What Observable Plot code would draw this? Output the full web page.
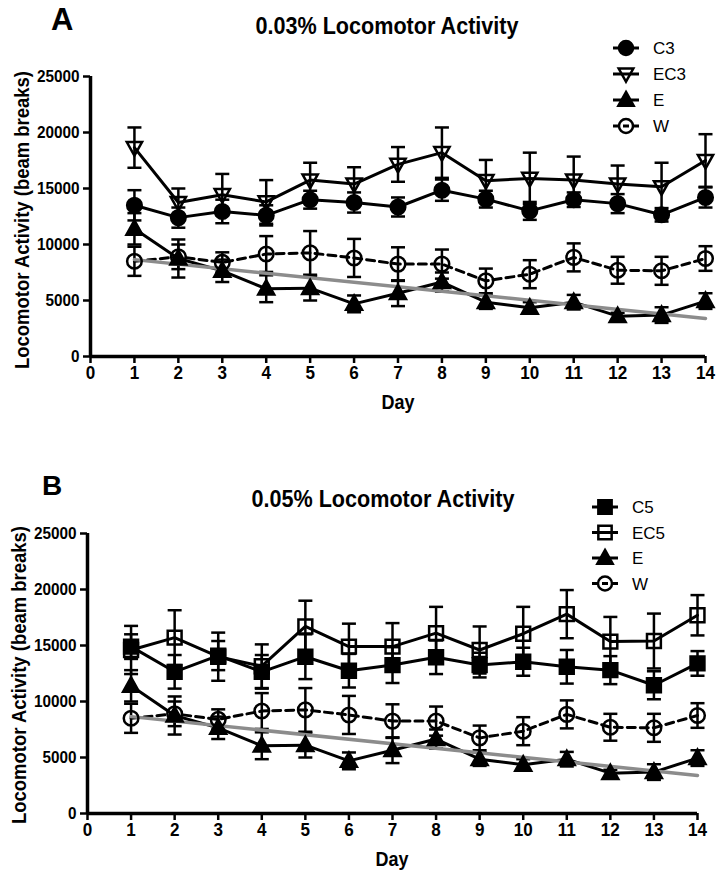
<!DOCTYPE html>
<html><head><meta charset="utf-8">
<script src="https://cdn.jsdelivr.net/npm/d3@7"></script>
<script src="https://cdn.jsdelivr.net/npm/@observablehq/plot@0.6"></script>
<style>
body{margin:0;background:#fff;font-family:"Liberation Sans",Arial,sans-serif;color:#000;}
#wrap{position:relative;width:722px;height:876px;overflow:hidden;background:#fff;}
.panel{position:absolute;left:0;width:722px;height:438px;}
.overlay{position:absolute;left:0;top:0;overflow:visible;}
</style></head><body><div id="wrap"></div>
<script>
// ---------- data ----------
const days = [1,2,3,4,5,6,7,8,9,10,11,12,13,14];
const xTicks = [0,1,2,3,4,5,6,7,8,9,10,11,12,13,14];
const yTicks = [0,5000,10000,15000,20000,25000];

const c3    = [13500,12400,12950,12600,14000,13750,13350,14850,14050,13000,14000,13650,12650,14200];
const c3Err = [1350,900,1050,900,800,900,850,950,750,800,650,850,600,900];
const ec3    = [18650,13750,14450,13800,15750,15400,17150,18200,15700,15900,15750,15400,15150,17500];
const ec3Err = [1800,1250,1850,1950,1550,1500,1550,2250,1850,2300,2100,1650,2150,2350];
const eVals = [11400,8750,7650,6050,6100,4700,5650,6650,4850,4350,4850,3600,3700,4950];
const eErr  = [1400,1700,1000,1200,1100,750,1150,850,600,500,650,300,700,700];
const wVals = [8500,8900,8400,9150,9250,8800,8250,8250,6750,7350,8850,7700,7650,8750];
const wErr  = [1300,1100,900,1600,1950,1700,1500,1300,1100,1250,1250,1200,1250,1100];
const c5    = [14900,12650,14100,12650,14000,12750,13250,13950,13250,13550,13100,12800,11450,13400];
const c5Err = [1100,1500,1300,1500,2000,1500,1600,1500,1100,1250,1500,1250,1250,1100];
const ec5    = [14600,15700,14000,13150,16700,14900,14900,16100,14600,16050,17800,15350,15400,17700];
const ec5Err = [2150,2450,2150,1950,2300,2050,2100,2350,2100,2400,2150,2200,2450,1800];
const trendDays = [1,14];
const trendVals = [8650,3400];

const titleA = "0.03% Locomotor Activity";
const titleB = "0.05% Locomotor Activity";
const yLabel = "Locomotor Activity (beam breaks)";
const xLabel = "Day";

// ---------- symbols ----------
const rad = s => Math.sqrt(s/Math.PI);
const symCircle = {draw(c,s){const r=rad(s); c.moveTo(r,0); c.arc(0,0,r,0,2*Math.PI); c.closePath();}};
const symTriUp = {draw(c,s){const r=rad(s)*1.15; c.moveTo(0,-r); c.lineTo(r*0.95,r*0.7); c.lineTo(-r*0.95,r*0.7); c.closePath();}};
const symTriDown = {draw(c,s){const r=rad(s)*1.1; c.moveTo(0,r); c.lineTo(r*0.95,-r*0.7); c.lineTo(-r*0.95,-r*0.7); c.closePath();}};
const symSquare = {draw(c,s){const r=rad(s)*0.95; c.moveTo(-r,-r); c.lineTo(r,-r); c.lineTo(r,r); c.lineTo(-r,r); c.closePath();}};
const symCap = {draw(c,s){const r=rad(s); c.moveTo(-r,0); c.lineTo(r,0);}};

const seriesA = [
  {name:"C3", values:c3, errs:c3Err, symbol:symCircle, filled:true, dash:false},
  {name:"EC3", values:ec3, errs:ec3Err, symbol:symTriDown, filled:false, dash:false},
  {name:"E", values:eVals, errs:eErr, symbol:symTriUp, filled:true, dash:false},
  {name:"W", values:wVals, errs:wErr, symbol:symCircle, filled:false, dash:true}
];
const seriesB = [
  {name:"C5", values:c5, errs:c5Err, symbol:symSquare, filled:true, dash:false},
  {name:"EC5", values:ec5, errs:ec5Err, symbol:symSquare, filled:false, dash:false},
  {name:"E", values:eVals, errs:eErr, symbol:symTriUp, filled:true, dash:false},
  {name:"W", values:wVals, errs:wErr, symbol:symCircle, filled:false, dash:true}
];

const wrap = document.getElementById("wrap");
const FONT = "Liberation Sans, Arial, sans-serif";

function condense(sel, factor){
  sel.each(function(){
    const len = this.getComputedTextLength();
    if (len > 0) { this.setAttribute("textLength", (len*factor).toFixed(1)); this.setAttribute("lengthAdjust","spacingAndGlyphs"); }
  });
}

function makePanel(cfg){
  const div = document.createElement("div");
  div.className = "panel"; div.style.top = cfg.top + "px";
  wrap.appendChild(div);
  const rows = [];
  cfg.series.forEach(s => s.values.forEach((v,i) => rows.push({series:s.name, day:days[i], v, err:s.errs[i]})));
  const trend = trendDays.map((d,i) => ({day:d, v:trendVals[i]}));
  const marks = [];
  marks.push(Plot.ruleX(rows, {x:"day", y1:d=>d.v-d.err, y2:d=>d.v+d.err, stroke:"#000", strokeWidth:2.5}));
  marks.push(Plot.dot(rows, {x:"day", y:d=>d.v+d.err, symbol:symCap, r:7, stroke:"#000", strokeWidth:2.5, fill:"none"}));
  marks.push(Plot.dot(rows, {x:"day", y:d=>d.v-d.err, symbol:symCap, r:7, stroke:"#000", strokeWidth:2.5, fill:"none"}));
  cfg.series.forEach(s => {
    marks.push(Plot.line(rows.filter(r=>r.series===s.name), {x:"day", y:"v", stroke:"#000", strokeWidth:3, strokeDasharray: s.dash ? "8,5" : null}));
  });
  marks.push(Plot.line(trend, {x:"day", y:"v", stroke:"#8c8c8c", strokeWidth:3.5}));
  cfg.series.forEach(s => {
    marks.push(Plot.dot(rows.filter(r=>r.series===s.name), {x:"day", y:"v", symbol:s.symbol, r:7.3, fill: s.filled ? "#000" : "none", stroke:"#000", strokeWidth:2.5}));
  });
  marks.push(Plot.ruleY([0], {stroke:"#000", strokeWidth:3.5}));
  marks.push(Plot.ruleX([0], {stroke:"#000", strokeWidth:3.5}));
  marks.push(Plot.axisX({ticks:xTicks, tickFormat:d=>String(d), tickSize:7, strokeWidth:2.5, tickPadding:3, fontSize:18, fontWeight:"bold", label:null}));
  marks.push(Plot.axisY({ticks:yTicks, tickFormat:d=>String(d), tickSize:7, strokeWidth:2.5, tickPadding:4, fontSize:17, fontWeight:"bold", label:null}));
  const chart = Plot.plot({
    width:722, height:438,
    marginLeft:cfg.ml, marginRight:cfg.mr, marginTop:cfg.mt, marginBottom:cfg.mb,
    x:{domain:[0,14]}, y:{domain:[0,25000]},
    style:{fontFamily:FONT, color:"#000", background:"transparent", overflow:"visible"},
    marks
  });
  div.appendChild(chart);
  condense(d3.select(chart).selectAll('g[aria-label="x-axis tick label"] text'), 0.95);
  condense(d3.select(chart).selectAll('g[aria-label="y-axis tick label"] text'), 0.9);

  // overlay: titles, axis labels, legend
  const svg = d3.select(div).append("svg").attr("class","overlay").attr("width",722).attr("height",438)
    .attr("font-family", FONT);
  svg.append("text").attr("x",cfg.letterX).attr("y",cfg.letterY).attr("font-size",cfg.letterSize).attr("font-weight","bold").text(cfg.letter);
  svg.append("text").attr("x",cfg.titleX).attr("y",cfg.titleY).attr("text-anchor","middle").attr("font-size",23).attr("font-weight","bold")
    .attr("textLength",263).attr("lengthAdjust","spacingAndGlyphs").text(cfg.title);
  svg.append("text").attr("x",cfg.xLabX).attr("y",cfg.xLabY).attr("text-anchor","middle").attr("font-size",21).attr("font-weight","bold")
    .attr("textLength",33).attr("lengthAdjust","spacingAndGlyphs").text(xLabel);
  svg.append("text").attr("transform",`translate(${cfg.yLabX},${cfg.yLabY}) rotate(-90)`).attr("text-anchor","middle")
    .attr("dy","0.35em").attr("font-size",21).attr("font-weight","bold")
    .attr("textLength",298).attr("lengthAdjust","spacingAndGlyphs").text(yLabel);

  cfg.series.forEach((s,i) => {
    const y = cfg.legY + i*cfg.legStep;
    const g = svg.append("g").attr("transform",`translate(${cfg.legX},${y})`);
    g.append("line").attr("x1",-13).attr("x2",13).attr("y1",0).attr("y2",0)
      .attr("stroke","#000").attr("stroke-width",3).attr("stroke-dasharray", s.dash ? "6,4" : null);
    g.append("path").attr("d", d3.symbol(s.symbol, Math.PI*49)())
      .attr("fill", s.filled ? "#000" : "none").attr("stroke","#000").attr("stroke-width",2.5);
    g.append("text").attr("x",27).attr("y",0).attr("dy","0.36em").attr("font-size",17).text(s.name);
  });
}

makePanel({top:0, series:seriesA, ml:90, mr:17, mt:76, mb:82,
  title:titleA, titleX:387, titleY:34, letter:"A", letterX:51, letterY:30, letterSize:31,
  xLabX:398, xLabY:409, yLabX:22, yLabY:220,
  legX:626, legY:48, legStep:26});
makePanel({top:438, series:seriesB, ml:87, mr:25, mt:95, mb:63,
  title:titleB, titleX:383, titleY:69, letter:"B", letterX:42, letterY:57, letterSize:28,
  xLabX:392, xLabY:428, yLabX:19, yLabY:237,
  legX:605, legY:69, legStep:25.5});
</script>
</body></html>
